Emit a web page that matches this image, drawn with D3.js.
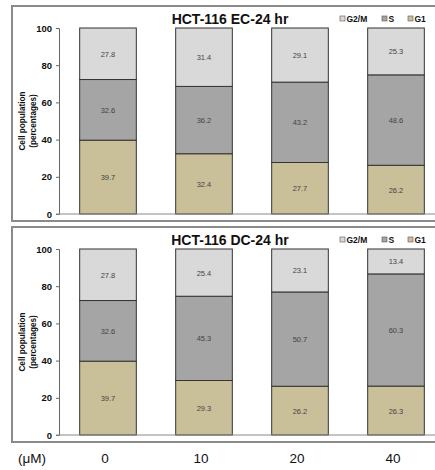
<!DOCTYPE html>
<html>
<head>
<meta charset="utf-8">
<script src="https://cdn.jsdelivr.net/npm/d3@7"></script>
<style>
body { margin: 0; background: #fff; }
svg { font-family: "Liberation Sans", Arial, sans-serif; }
</style>
</head>
<body>
<svg id="chart" width="435" height="470"></svg>
<script>
var doses = ["0", "10", "20", "40"];
var phases = ["G1", "S", "G2/M"];
var legendOrder = ["G2/M", "S", "G1"];
var yTicks = [0, 20, 40, 60, 80, 100];

var ecG1 = [39.7, 32.4, 27.7, 26.2];
var ecS = [32.6, 36.2, 43.2, 48.6];
var ecG2M = [27.8, 31.4, 29.1, 25.3];

var dcG1 = [39.7, 29.3, 26.2, 26.3];
var dcS = [32.6, 45.3, 50.7, 60.3];
var dcG2M = [27.8, 25.4, 23.1, 13.4];

var colors = { "G1": "#c9c09a", "S": "#a5a5a5", "G2/M": "#d9d9d9" };

var svg = d3.select("#chart");

function buildRows(g1, s, g2m) {
    return doses.map(function (d, i) {
        return { dose: d, "G1": g1[i], "S": s[i], "G2/M": g2m[i] };
    });
}

var x = d3.scaleBand().domain(doses).range([60, 444]).paddingInner(0.41).paddingOuter(0.205);

function drawPanel(top, title, rows) {
    var g = svg.append("g").attr("transform", "translate(0," + top + ")");
    // frame
    g.append("rect")
        .attr("x", 12).attr("y", 0)
        .attr("width", 440).attr("height", 215)
        .attr("fill", "#fff")
        .attr("stroke", "#8a8a8a")
        .attr("stroke-width", 2);

    var y = d3.scaleLinear().domain([0, 100]).range([208, 22]);

    var stacked = d3.stack().keys(phases)(rows);

    g.selectAll("g.layer")
        .data(stacked)
        .enter().append("g")
        .attr("class", "layer")
        .attr("fill", function (d) { return colors[d.key]; })
        .each(function (layer) {
            var lg = d3.select(this);
            lg.selectAll("rect")
                .data(layer)
                .enter().append("rect")
                .attr("x", function (d) { return x(d.data.dose); })
                .attr("width", x.bandwidth())
                .attr("y", function (d) { return y(Math.min(100, d[1])); })
                .attr("height", function (d) { return y(d[0]) - y(Math.min(100, d[1])); })
                .attr("stroke", "#333")
                .attr("stroke-width", 1);
            lg.selectAll("text")
                .data(layer)
                .enter().append("text")
                .attr("x", function (d) { return x(d.data.dose) + x.bandwidth() / 2; })
                .attr("y", function (d) { return (y(d[0]) + y(Math.min(100, d[1]))) / 2 + 3; })
                .attr("text-anchor", "middle")
                .attr("font-size", "7.5px")
                .attr("fill", "#444")
                .text(function (d) { return d.data[layer.key].toFixed(1); });
        });

    var axis = d3.axisLeft(y).tickValues(yTicks).tickSize(3).tickPadding(4);
    var ag = g.append("g").attr("transform", "translate(59,0)").call(axis);
    ag.select(".domain").attr("stroke", "#666");
    ag.selectAll(".tick line").attr("stroke", "#666");
    ag.selectAll(".tick text")
        .attr("font-size", "9.5px")
        .attr("font-weight", "bold")
        .attr("fill", "#111")
        .attr("font-family", "Liberation Sans, Arial, sans-serif");

    // baseline
    g.append("line")
        .attr("x1", 56).attr("x2", 440)
        .attr("y1", y(0)).attr("y2", y(0))
        .attr("stroke", "#888").attr("stroke-width", 1);

    g.append("text")
        .attr("x", 230).attr("y", 18)
        .attr("text-anchor", "middle")
        .attr("font-size", "14px")
        .attr("font-weight", "bold")
        .attr("fill", "#111")
        .text(title);

    var label = g.append("text")
        .attr("transform", "translate(26," + ((y(0) + y(100)) / 2) + ") rotate(-90)")
        .attr("text-anchor", "middle")
        .attr("font-size", "8.2px")
        .attr("font-weight", "bold")
        .attr("fill", "#111");
    label.append("tspan").attr("x", 0).attr("dy", -1).text("Cell population");
    label.append("tspan").attr("x", 0).attr("dy", 10.5).text("(percentages)");

    var legendX = { "G2/M": 340, "S": 382, "G1": 408 };
    legendOrder.forEach(function (k) {
        g.append("rect")
            .attr("x", legendX[k]).attr("y", 10)
            .attr("width", 5).attr("height", 5)
            .attr("fill", colors[k])
            .attr("stroke", "#555").attr("stroke-width", 0.6);
        g.append("text")
            .attr("x", legendX[k] + 6.5).attr("y", 15.5)
            .attr("font-size", "8.5px")
            .attr("font-weight", "bold")
            .attr("fill", "#111")
            .text(k);
    });
}

drawPanel(6, "HCT-116 EC-24 hr", buildRows(ecG1, ecS, ecG2M));
drawPanel(227, "HCT-116 DC-24 hr", buildRows(dcG1, dcS, dcG2M));

// x labels below panels
svg.append("text")
    .attr("x", 32).attr("y", 463)
    .attr("text-anchor", "middle")
    .attr("font-size", "13.5px")
    .attr("fill", "#111")
    .text("(\u03bcM)");

svg.selectAll("text.dose")
    .data(doses)
    .enter().append("text")
    .attr("class", "dose")
    .attr("x", function (d) { return x(d) + x.bandwidth() / 2 - 3; })
    .attr("y", 463)
    .attr("text-anchor", "middle")
    .attr("font-size", "13.5px")
    .attr("fill", "#111")
    .text(function (d) { return d; });
</script>
</body>
</html>
